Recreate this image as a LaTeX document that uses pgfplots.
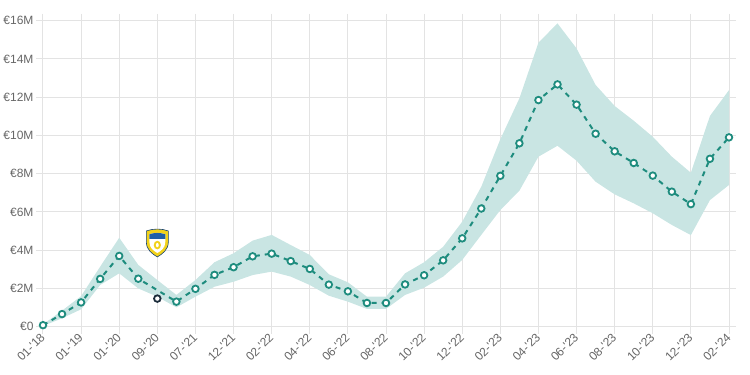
\documentclass[border=0pt]{standalone}
\usepackage{pgfplots}
\pgfplotsset{compat=1.18}
\usepgfplotslibrary{fillbetween}
\usepackage{fontspec}
\setmainfont{Liberation Sans}[Ligatures=TeXOff]
\definecolor{teal1}{HTML}{1E8C7E}
\definecolor{bandc}{HTML}{C9E5E3}
\definecolor{gridc}{HTML}{E3E3E3}
\definecolor{labc}{HTML}{666666}
\definecolor{darkpt}{HTML}{1B2B3A}
\definecolor{lyellow}{HTML}{F2D21B}
\definecolor{lblue}{HTML}{1F5FA8}
\begin{document}
\begin{tikzpicture}
\begin{axis}[
  scale only axis,
  width=686pt, height=306pt,
  xmin=0, xmax=36, ymin=0, ymax=16,
  xtick={0,2,...,36},
  xticklabels={01-'18,01-'19,01-'20,09-'20,07-'21,12-'21,02-'22,04-'22,06-'22,08-'22,10-'22,12-'22,02-'23,04-'23,06-'23,08-'23,10-'23,12-'23,02-'24},
  ytick={0,2,...,16},
  yticklabels={€0,€2M,€4M,€6M,€8M,€10M,€12M,€14M,€16M},
  grid=major,
  major grid style={draw=gridc, line width=1pt},
  axis line style={draw=gridc, line width=1pt},
  tick align=outside,
  major tick length=7pt,
  tick style={draw=gridc, line width=1pt},
  ticklabel style={font=\fontsize{12}{14}\selectfont, text=labc},
  xticklabel style={rotate=45, anchor=east, xshift=2pt, yshift=-1pt},
  yticklabel style={xshift=1pt},
  clip=false,
]
\addplot[name path=up, draw=none] coordinates {
(0,0.12)(1,0.84)(2,1.6)(3,3.14)(4,4.65)(5,3.23)(6,2.44)(7,1.66)(8,2.44)(9,3.37)(10,3.84)(11,4.5)(12,4.8)(13,4.27)(14,3.75)(15,2.74)(16,2.32)(17,1.57)(18,1.57)(19,2.79)(20,3.37)(21,4.18)(22,5.49)(23,7.32)(24,9.8)(25,11.94)(26,14.85)(27,15.86)(28,14.55)(29,12.64)(30,11.54)(31,10.77)(32,9.93)(33,8.89)(34,8.05)(35,11.02)(36,12.37)};
\addplot[name path=lo, draw=none] coordinates {
(0,0.04)(1,0.44)(2,0.91)(3,2.18)(4,2.79)(5,2.0)(6,1.57)(7,1.01)(8,1.57)(9,2.09)(10,2.35)(11,2.7)(12,2.88)(13,2.62)(14,2.18)(15,1.62)(16,1.31)(17,0.93)(18,0.93)(19,1.66)(20,2.04)(21,2.62)(22,3.49)(23,4.8)(24,6.1)(25,7.11)(26,8.89)(27,9.46)(28,8.68)(29,7.58)(30,6.92)(31,6.45)(32,5.93)(33,5.32)(34,4.79)(35,6.62)(36,7.41)};
\addplot[bandc] fill between[of=up and lo];
\addplot[teal1, line width=2pt, dash pattern=on 5pt off 5pt,
  mark=*, mark size=3.3pt,
  mark options={solid, fill=white, draw=teal1, line width=1.8pt}] coordinates {
(0,0.08)(1,0.66)(2,1.27)(3,2.50)(4,3.70)(5,2.51)(7,1.31)(8,1.98)(9,2.71)(10,3.11)(11,3.68)(12,3.82)(13,3.43)(14,3.02)(15,2.20)(16,1.85)(17,1.24)(18,1.24)(19,2.21)(20,2.69)(21,3.47)(22,4.62)(23,6.18)(24,7.89)(25,9.59)(26,11.85)(27,12.67)(28,11.61)(29,10.09)(30,9.17)(31,8.56)(32,7.90)(33,7.06)(34,6.41)(35,8.78)(36,9.90)};
\addplot[only marks, mark=*, mark size=3.3pt,
  mark options={fill=white, draw=darkpt, line width=1.8pt}] coordinates {(6,1.47)};
\coordinate (logo) at (axis cs:6,4.38);
\end{axis}
\begin{scope}[shift={(logo)}, x=1pt, y=1pt]
  \def\shield{(-11,12) .. controls (-4,14.5) and (4,14.5) .. (11,12) -- (11,1) .. controls (11,-7) and (5,-11) .. (0,-14) .. controls (-5,-11) and (-11,-7) .. (-11,1) -- cycle}
  \fill[lyellow, draw=lblue!70!black, line width=0.6pt] \shield;
  \begin{scope}[scale=0.72]
    \fill[white] \shield;
    \clip \shield;
    \fill[lblue] (-12,5) rectangle (12,16);
    \fill[lyellow] (0,-3) ellipse (5 and 6);
    \fill[white] (0,-3) ellipse (2 and 3);
  \end{scope}
\end{scope}
\pgfresetboundingbox
\useasboundingbox (-43pt,-48.3pt) rectangle (707pt,326.7pt);
\end{tikzpicture}
\end{document}
